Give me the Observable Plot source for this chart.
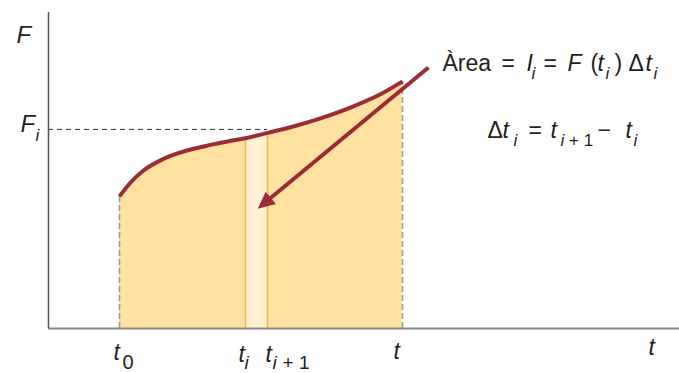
<!DOCTYPE html>
<html>
<head>
<meta charset="utf-8">
<script src="https://cdn.jsdelivr.net/npm/d3@7"></script>
<script src="https://cdn.jsdelivr.net/npm/@observablehq/plot@0.6"></script>
<style>
  html, body { margin: 0; padding: 0; background: #fff; }
  #chart svg { display: block; }
</style>
</head>
<body>
<div id="chart"></div>
<script>
// ---- data (arbitrary units: t on 0–100, F on 0–100) ----
const tValues = [11.25, 13.0, 15.06, 17.75, 20.44, 22.98, 25.67, 28.37, 31.22, 34.71, 38.35, 43.1, 48.34, 52.6, 56.1];
const FValues = [41.8, 46.2, 50.0, 53.2, 55.4, 56.9, 58.1, 59.2, 60.2, 61.9, 63.7, 66.5, 70.3, 74.1, 78.2];
const T0 = 11.25, TI = 31.22, TI1 = 34.71, T = 56.1;
const FI = 63.0;
const arrowFrom = [60.22, 82.59];
const arrowTo = [33.76, 38.92];

// labels
const yAxisLabel = "F";
const fiLabel = ["F", "i"];
const tickValues = [T0, TI, TI1, T];
const tickMain = ["t", "t", "t", "t"];
const tickSub = ["0", "i", "i", ""];
const tickSubTail = ["", "", "+ 1", ""];
const xAxisLabel = "t";
const formula1 = ["Àrea", "=", "I", "i", "=", "F", "(", "t", "i", ")", "Δ", "t", "i"];
const formula2 = ["Δ", "t", "i", "=", "t", "i", "+ 1", "−", "t", "i"];

// ---- styling ----
const FONT = "'Liberation Sans', Arial, Helvetica, sans-serif";
const INK = "#231f20";
const RED = "#9b2c35";
const FILL = "#ffe1a0";
const STRIP = "#fff2d2";
const STRIP_EDGE = "#f5b552";

const curve = tValues.map((t, i) => ({t, F: FValues[i]}));
const strip = curve.filter(d => d.t >= TI - 1e-9 && d.t <= TI1 + 1e-9);
const ends = [curve[0], curve[curve.length - 1]];

const filledHead = (color) => {
  const m = d3.create("svg:marker")
    .attr("viewBox", "-14 -9 20 18")
    .attr("markerWidth", 20).attr("markerHeight", 18)
    .attr("markerUnits", "userSpaceOnUse")
    .attr("orient", "auto")
    .attr("overflow", "visible");
  m.append("path").attr("d", "M5,0L-12,-8L-12,8Z").attr("fill", color).attr("stroke", "none");
  return m.node();
};

// rich text helper: tokens = [text, offset(px), italic, sub]
function rich(data, channels, tokens, o) {
  return tokens.filter(tk => tk[0] !== "").map(([s, off, it, sub]) => Plot.text(data, {
    ...channels,
    frameAnchor: o.frameAnchor,
    text: () => s,
    dx: o.dx + off,
    dy: o.dy + (sub ? o.subDy : 0),
    fontSize: sub ? o.subSize : o.size,
    fontStyle: it ? "italic" : "normal",
    fontFamily: FONT,
    textAnchor: "start",
    lineAnchor: "bottom",
    fill: INK,
    stroke: null
  }));
}

const marks = [
  Plot.areaY(curve, {x: "t", y: "F", curve: "monotone-x", fill: FILL}),
  Plot.areaY(strip, {x: "t", y: "F", fill: STRIP}),
  Plot.ruleX(strip, {x: "t", y1: 0, y2: "F", stroke: STRIP_EDGE, strokeWidth: 1.6}),
  Plot.ruleX(ends, {x: "t", y1: 0, y2: "F", stroke: "#9a9a9a", strokeWidth: 1.6, strokeDasharray: "6,3"}),
  Plot.ruleY([FI], {x1: 0, x2: TI1, stroke: "#333", strokeWidth: 1, strokeDasharray: "5,4"}),
  Plot.ruleY([0], {stroke: "#888", strokeWidth: 2}),
  Plot.ruleX([0], {stroke: "#555", strokeWidth: 1.5}),
  Plot.line(curve, {x: "t", y: "F", curve: "monotone-x", stroke: RED, strokeWidth: 4, strokeLinecap: "butt"}),
  Plot.link([{x1: arrowFrom[0], y1: arrowFrom[1], x2: arrowTo[0], y2: arrowTo[1]}], {
    x1: "x1", y1: "y1", x2: "x2", y2: "y2", stroke: RED, strokeWidth: 4, markerEnd: filledHead
  }),
  // y axis labels
  ...rich([0], {}, [[yAxisLabel, -32, true, false]], {frameAnchor: "top-left", dx: 0, dy: 30, size: 24, subSize: 17, subDy: 9}),
  ...rich([FI], {y: d => d}, [[fiLabel[0], -28, true, false], [fiLabel[1], -13, true, true]],
    {frameAnchor: "left", dx: 0, dy: 3, size: 24, subSize: 17, subDy: 9}),
  // x tick labels
  ...rich([tickValues[0]], {x: d => d}, [[tickMain[0], -6, true, false], [tickSub[0], 3, false, true]],
    {frameAnchor: "bottom", dx: 0, dy: 31, size: 23, subSize: 20, subDy: 9}),
  ...rich([tickValues[1]], {x: d => d}, [[tickMain[1], -7, true, false], [tickSub[1], -1, true, true]],
    {frameAnchor: "bottom", dx: 0, dy: 33, size: 23, subSize: 19, subDy: 7}),
  ...rich([tickValues[2]], {x: d => d}, [[tickMain[2], -2, true, false], [tickSub[2], 5, true, true], [tickSubTail[2], 15, false, true]],
    {frameAnchor: "bottom", dx: 0, dy: 33, size: 23, subSize: 19, subDy: 7}),
  ...rich([tickValues[3]], {x: d => d}, [[tickMain[3], -9, true, false]],
    {frameAnchor: "bottom", dx: 0, dy: 30, size: 23, subSize: 20, subDy: 9}),
  ...rich([0], {}, [[xAxisLabel, -31, true, false]], {frameAnchor: "bottom-right", dx: 0, dy: 26, size: 23, subSize: 20, subDy: 9}),
  // formula lines
  ...rich([0], {}, [
    [formula1[0], 0, false, false], [formula1[1], 59, false, false], [formula1[2], 84, true, false], [formula1[3], 89, true, true],
    [formula1[4], 101, false, false], [formula1[5], 125, true, false], [formula1[6], 148, false, false], [formula1[7], 155, true, false],
    [formula1[8], 163, true, true], [formula1[9], 172, false, false], [formula1[10], 186, false, false], [formula1[11], 203, true, false],
    [formula1[12], 211, true, true]
  ], {frameAnchor: "top-left", dx: 394, dy: 58, size: 23, subSize: 17, subDy: 8}),
  ...rich([0], {}, [
    [formula2[0], 0, false, false], [formula2[1], 15, true, false], [formula2[2], 26, true, true], [formula2[3], 41, false, false],
    [formula2[4], 63, true, false], [formula2[5], 73, true, true], [formula2[6], 81.5, false, true], [formula2[7], 110, false, false],
    [formula2[8], 138, true, false], [formula2[9], 146, true, true]
  ], {frameAnchor: "top-left", dx: 439, dy: 125, size: 23, subSize: 17, subDy: 8})
];

const chart = Plot.plot({
  width: 679,
  height: 373,
  marginLeft: 48,
  marginRight: 0,
  marginTop: 12,
  marginBottom: 45,
  x: {domain: [0, 100], axis: null},
  y: {domain: [0, 100], axis: null},
  style: {background: "#fff", fontFamily: FONT, overflow: "visible"},
  marks
});
document.getElementById("chart").append(chart);
</script>
</body>
</html>
